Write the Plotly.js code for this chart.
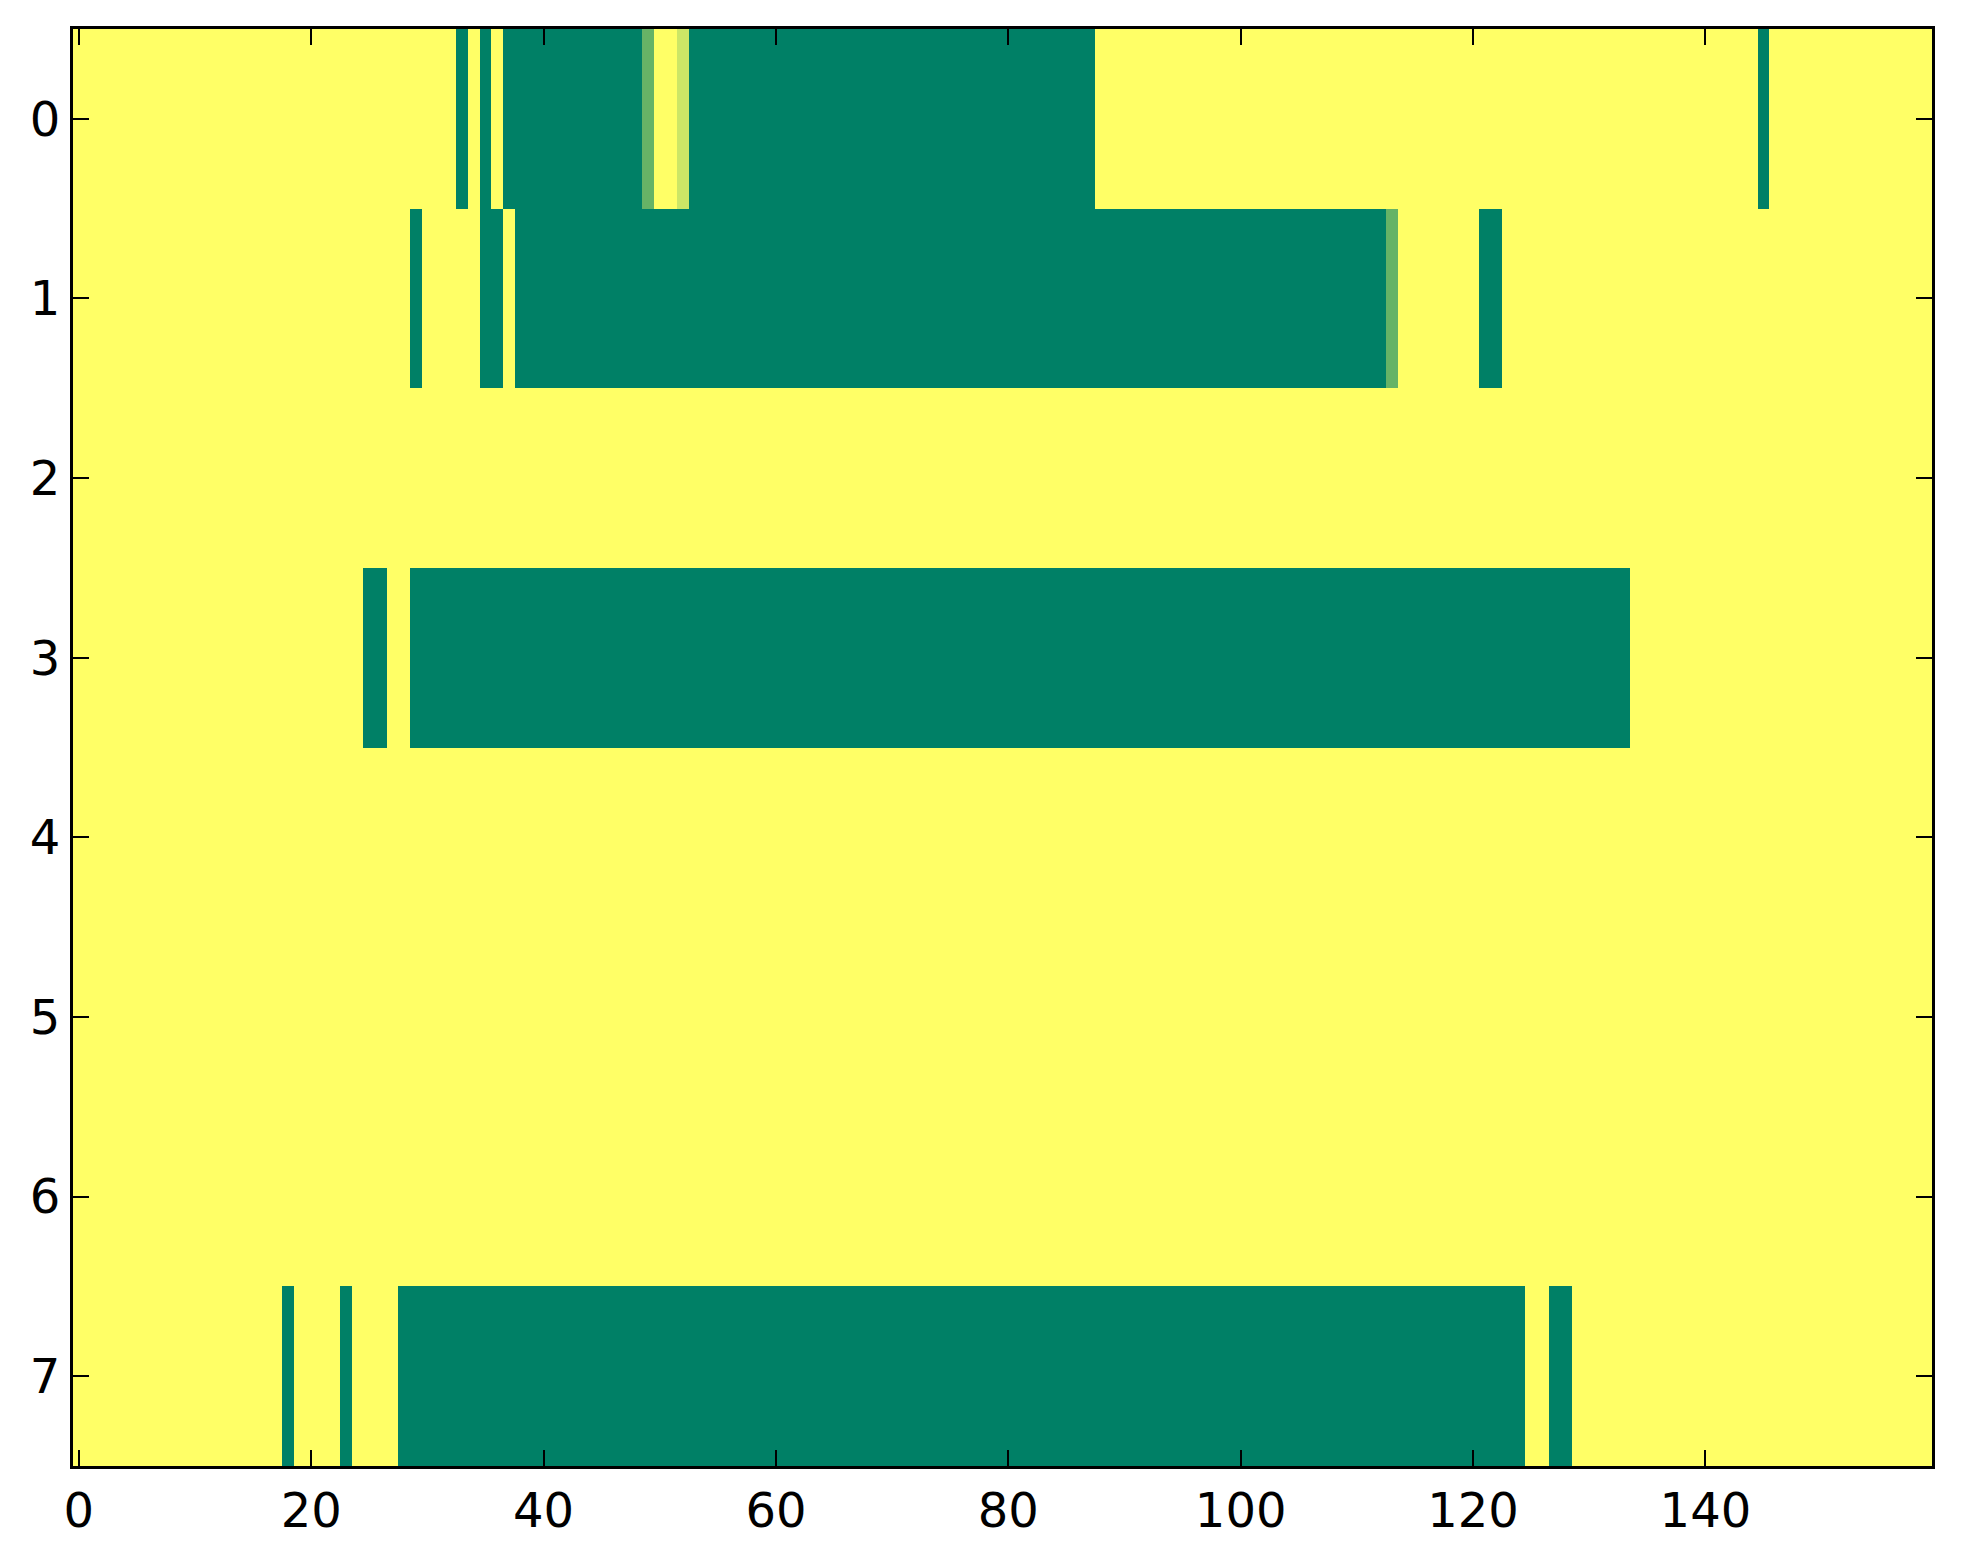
<!DOCTYPE html>
<html>
<head>
<meta charset="utf-8">
<script src="https://cdn.plot.ly/plotly-3.0.1.min.js"></script>
<style>
  html, body { margin: 0; padding: 0; background: #ffffff; }
  #grafico { width: 1963px; height: 1564px; }
</style>
</head>
<body>
<div id="grafico"></div>
<script>
// Mapa de celdas: 8 filas x 160 columnas. Cada carácter es el valor leído de
// una celda (0 = verde oscuro, 5 = amarillo); los espacios solo agrupan de a 10.
const FILA_0 = '5555555555 5555555555 5555555555 5550505000 0000000002 5540000000 0000000000 0000000000 0000000055 5555555555 5555555555 5555555555 5555555555 5555555555 5555505555 5555555555';
const FILA_1 = '5555555555 5555555555 5555555550 5555500500 0000000000 0000000000 0000000000 0000000000 0000000000 0000000000 0000000000 0002555555 5005555555 5555555555 5555555555 5555555555';
const FILA_2 = '5555555555 5555555555 5555555555 5555555555 5555555555 5555555555 5555555555 5555555555 5555555555 5555555555 5555555555 5555555555 5555555555 5555555555 5555555555 5555555555';
const FILA_3 = '5555555555 5555555555 5555500550 0000000000 0000000000 0000000000 0000000000 0000000000 0000000000 0000000000 0000000000 0000000000 0000000000 0000555555 5555555555 5555555555';
const FILA_4 = '5555555555 5555555555 5555555555 5555555555 5555555555 5555555555 5555555555 5555555555 5555555555 5555555555 5555555555 5555555555 5555555555 5555555555 5555555555 5555555555';
const FILA_5 = '5555555555 5555555555 5555555555 5555555555 5555555555 5555555555 5555555555 5555555555 5555555555 5555555555 5555555555 5555555555 5555555555 5555555555 5555555555 5555555555';
const FILA_6 = '5555555555 5555555555 5555555555 5555555555 5555555555 5555555555 5555555555 5555555555 5555555555 5555555555 5555555555 5555555555 5555555555 5555555555 5555555555 5555555555';
const FILA_7 = '5555555555 5555555505 5550555500 0000000000 0000000000 0000000000 0000000000 0000000000 0000000000 0000000000 0000000000 0000000000 0000055005 5555555555 5555555555 5555555555';

const FILAS = [FILA_0, FILA_1, FILA_2, FILA_3, FILA_4, FILA_5, FILA_6, FILA_7];
const TICKS_X = [0, 20, 40, 60, 80, 100, 120, 140];
const TICKS_Y = [0, 1, 2, 3, 4, 5, 6, 7];

// Paleta "summer": verde (0, .5, .4) a amarillo (1, 1, .4), interpolación lineal.
const ESCALA_SUMMER = [[0, '#008066'], [1, '#ffff66']];

function decodificarFila(texto) {
  return texto.replace(/\s+/g, '').split('').map(Number);
}

const z = FILAS.map(decodificarFila);

const traza = {
  type: 'heatmap',
  z: z,
  colorscale: ESCALA_SUMMER,
  zmin: 0,
  zmax: 5,
  showscale: false,
  hoverinfo: 'skip',
};

const ejeComun = {
  showgrid: false,
  zeroline: false,
  showline: true,
  linecolor: '#000000',
  linewidth: 3,
  mirror: 'ticks',
  ticks: 'inside',
  ticklen: 16,
  tickwidth: 2,
  tickcolor: '#000000',
  tickfont: { family: 'DejaVu Sans', size: 48, color: '#000000' },
};

const layout = {
  width: 1963,
  height: 1564,
  margin: { t: 29, r: 31, b: 98, l: 73 },
  paper_bgcolor: '#ffffff',
  plot_bgcolor: '#ffffff',
  showlegend: false,
  xaxis: {
    ...ejeComun,
    range: [-0.5, 159.5],
    tickmode: 'array',
    tickvals: TICKS_X,
    ticktext: TICKS_X.map(String),
  },
  yaxis: {
    ...ejeComun,
    range: [7.5, -0.5],
    tickmode: 'array',
    tickvals: TICKS_Y,
    ticktext: TICKS_Y.map(String),
  },
};

Plotly.newPlot('grafico', [traza], layout, { displayModeBar: false, staticPlot: true });
</script>
</body>
</html>
